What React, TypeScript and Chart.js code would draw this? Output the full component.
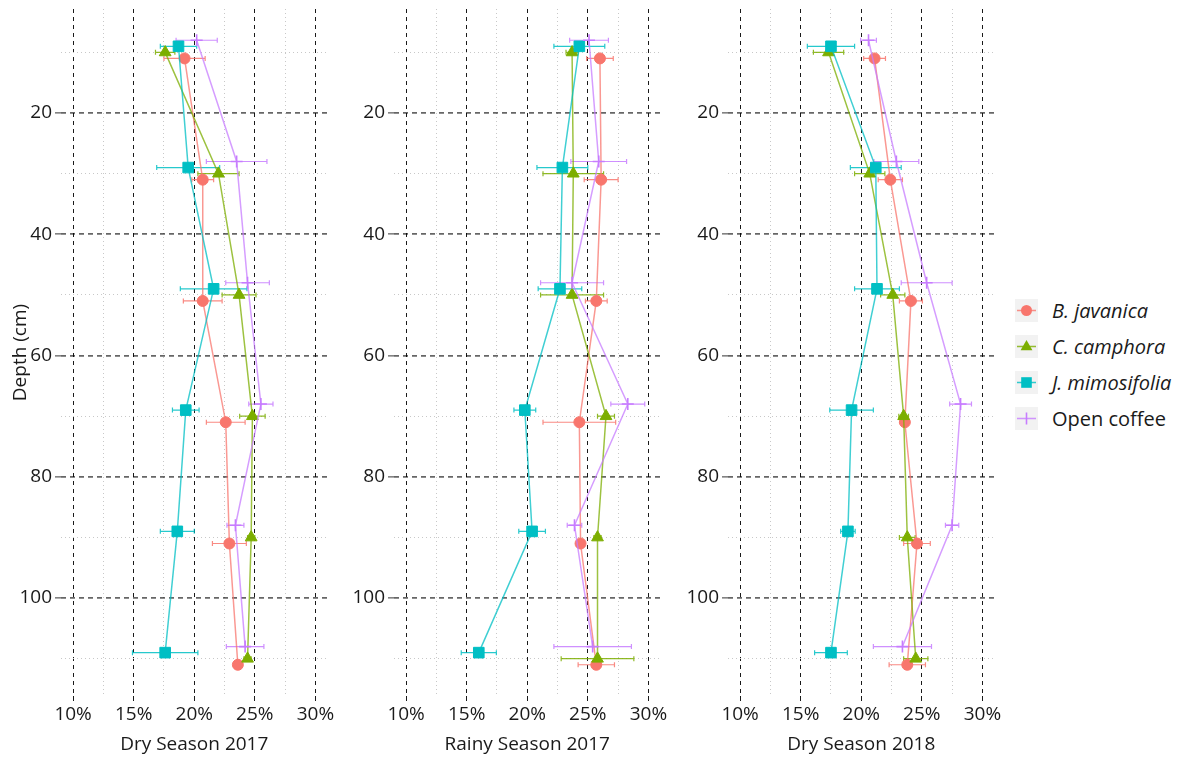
import React, { useEffect, useRef } from "react";
import { Chart, registerables } from "chart.js";

Chart.register(...registerables);

// ---------- data ----------
const panelTitles = ["Dry Season 2017", "Rainy Season 2017", "Dry Season 2018"];
const seriesNames = ["B. javanica", "C. camphora", "J. mimosifolia", "Open coffee"];
const seriesColors = ["#F8766D", "#7CAE00", "#00BFC4", "#C77CFF"];
const xTickLabels = [10, 15, 20, 25, 30];
const yTickLabels = [20, 40, 60, 80, 100];

// depths (cm), dodged per series
const depthBJ = [11, 31, 51, 71, 91, 111];
const depthCC = [10, 30, 50, 70, 90, 110];
const depthJM = [9, 29, 49, 69, 89, 109];
const depthOC = [8, 28, 48, 68, 88, 108];

// Dry Season 2017 (soil moisture %)
const dry17BJ = [19.2, 20.7, 20.7, 22.6, 22.9, 23.6];
const dry17CC = [17.6, 22.0, 23.7, 24.8, 24.7, 24.4];
const dry17JM = [18.7, 19.5, 21.6, 19.3, 18.6, 17.6];
const dry17OC = [20.2, 23.5, 24.4, 25.5, 23.4, 24.2];
const dry17BJse = [1.7, 0.9, 1.6, 1.6, 1.4, 0.3];
const dry17CCse = [0.8, 1.7, 1.4, 1.05, 0.3, 0.3];
const dry17JMse = [1.5, 2.6, 2.75, 1.1, 1.4, 2.7];
const dry17OCse = [1.7, 2.5, 1.8, 1.0, 0.7, 1.55];

// Rainy Season 2017
const rainy17BJ = [26.0, 26.1, 25.7, 24.3, 24.4, 25.7];
const rainy17CC = [23.7, 23.8, 23.7, 26.5, 25.8, 25.8];
const rainy17JM = [24.3, 22.9, 22.7, 19.8, 20.4, 16.0];
const rainy17OC = [25.1, 25.9, 23.7, 28.3, 23.9, 25.4];
const rainy17BJse = [1.1, 1.4, 0.9, 3.0, 0.3, 1.5];
const rainy17CCse = [0.5, 2.5, 2.6, 0.7, 0.3, 3.0];
const rainy17JMse = [2.1, 2.1, 1.8, 0.9, 1.1, 1.45];
const rainy17OCse = [1.6, 2.3, 2.6, 1.4, 0.6, 3.2];

// Dry Season 2018
const dry18BJ = [21.1, 22.4, 24.1, 23.6, 24.6, 23.8];
const dry18CC = [17.3, 20.7, 22.6, 23.5, 23.8, 24.5];
const dry18JM = [17.5, 21.2, 21.3, 19.2, 18.9, 17.5];
const dry18OC = [20.6, 22.9, 25.4, 28.2, 27.5, 23.4];
const dry18BJse = [0.9, 1.0, 0.95, 0.3, 1.1, 1.5];
const dry18CCse = [1.25, 1.25, 1.0, 0.4, 0.65, 1.0];
const dry18JMse = [1.95, 2.1, 1.85, 1.8, 0.6, 1.35];
const dry18OCse = [0.65, 1.85, 2.1, 0.9, 0.55, 2.4];

const depths = [depthBJ, depthCC, depthJM, depthOC];
const panelValues = [
  [dry17BJ, dry17CC, dry17JM, dry17OC],
  [rainy17BJ, rainy17CC, rainy17JM, rainy17OC],
  [dry18BJ, dry18CC, dry18JM, dry18OC],
];
const panelErrors = [
  [dry17BJse, dry17CCse, dry17JMse, dry17OCse],
  [rainy17BJse, rainy17CCse, rainy17JMse, rainy17OCse],
  [dry18BJse, dry18CCse, dry18JMse, dry18OCse],
];

// ---------- styling ----------
const FONT = "'Open Sans', 'Noto Sans', sans-serif";
const TEXT = "#1a1a1a";
const pointStyles = ["circle", "triangle", "rect", "cross"];
const pointRadii = [5.5, 6.8, 7.5, 6];

function rgba(hex: string, a: number) {
  const n = parseInt(hex.slice(1), 16);
  return `rgba(${(n >> 16) & 255},${(n >> 8) & 255},${n & 255},${a})`;
}

const errorBarPlugin = {
  id: "errorBars",
  beforeDatasetsDraw(chart: any) {
    const { ctx, scales } = chart;
    const xs = scales.x;
    const ys = scales.y;
    ctx.save();
    chart.data.datasets.forEach((ds: any) => {
      ctx.strokeStyle = ds.errorColor;
      ctx.lineWidth = 1.2;
      ds.data.forEach((p: any, i: number) => {
        const e = ds.errors[i];
        const x0 = xs.getPixelForValue(p.x - e);
        const x1 = xs.getPixelForValue(p.x + e);
        const py = ys.getPixelForValue(p.y);
        ctx.beginPath();
        ctx.moveTo(x0, py);
        ctx.lineTo(x1, py);
        ctx.moveTo(x0, py - 2.5);
        ctx.lineTo(x0, py + 2.5);
        ctx.moveTo(x1, py - 2.5);
        ctx.lineTo(x1, py + 2.5);
        ctx.stroke();
      });
    });
    ctx.restore();
  },
};

const isMajorX = (v: number) => xTickLabels.some((t) => Math.abs(t - v) < 1e-6);
const isMajorY = (v: number) => yTickLabels.some((t) => Math.abs(t - v) < 1e-6);

function makeConfig(p: number): any {
  const datasets = seriesNames.map((name, s) => ({
    label: name,
    data: depths[s].map((d, i) => ({ x: panelValues[p][s][i], y: d })),
    errors: panelErrors[p][s],
    errorColor: rgba(seriesColors[s], 0.85),
    showLine: true,
    borderColor: rgba(seriesColors[s], 0.75),
    borderWidth: 1.5,
    backgroundColor: seriesColors[s],
    pointBackgroundColor: seriesColors[s],
    pointBorderColor: seriesColors[s],
    pointBorderWidth: s === 3 ? 1.6 : 1,
    pointStyle: pointStyles[s],
    pointRadius: pointRadii[s],
    pointHoverRadius: pointRadii[s],
    order: 4 - s,
  }));

  return {
    type: "scatter",
    data: { datasets },
    plugins: [errorBarPlugin],
    options: {
      animation: false,
      responsive: false,
      events: [],
      layout: { padding: { top: 9, right: 0, left: 0, bottom: 0 } },
      plugins: { legend: { display: false }, tooltip: { enabled: false } },
      scales: {
        x: {
          type: "linear",
          min: 9,
          max: 31,
          afterFit: (s: any) => {
            s.height = 61;
            s.paddingLeft = 0;
            s.paddingRight = 0;
          },
          ticks: {
            stepSize: 2.5,
            includeBounds: false,
            autoSkip: false,
            maxRotation: 0,
            maxTicksLimit: 30,
            padding: 2,
            color: TEXT,
            font: { family: FONT, size: 19 },
            callback: (v: number) => (isMajorX(v) ? `${Math.round(v)}%` : ""),
          },
          grid: {
            color: (c: any) => (c.tick && isMajorX(c.tick.value) ? "#1a1a1a" : "#c8c8c8"),
            lineWidth: 1,
            drawTicks: true,
            tickLength: 5,
            tickColor: (c: any) => (c.tick && isMajorX(c.tick.value) ? "#1a1a1a" : "rgba(0,0,0,0)"),
            tickWidth: 1,
          },
          border: {
            display: false,
            dash: (c: any) => (c.tick && isMajorX(c.tick.value) ? [4, 4] : [1, 3]),
          },
          title: {
            display: true,
            text: panelTitles[p],
            color: TEXT,
            font: { family: FONT, size: 19 },
            padding: { top: 0, bottom: 1 },
          },
        },
        y: {
          type: "linear",
          reverse: true,
          min: 2.85,
          max: 116.15,
          afterFit: (s: any) => {
            s.width = 61;
            s.paddingTop = 0;
            s.paddingBottom = 0;
          },
          ticks: {
            stepSize: 10,
            includeBounds: false,
            autoSkip: false,
            maxTicksLimit: 30,
            padding: 3,
            color: TEXT,
            font: { family: FONT, size: 19 },
            callback: (v: number) => (isMajorY(v) ? `${Math.round(v)}` : ""),
          },
          grid: {
            color: (c: any) => (c.tick && isMajorY(c.tick.value) ? "rgba(0,0,0,0.6)" : "#c8c8c8"),
            lineWidth: (c: any) => (c.tick && isMajorY(c.tick.value) ? 1.8 : 1),
            drawTicks: true,
            tickLength: 6,
            tickColor: (c: any) => (c.tick && isMajorY(c.tick.value) ? "#333" : "rgba(0,0,0,0)"),
            tickWidth: 1,
          },
          border: {
            display: false,
            dash: (c: any) => (c.tick && isMajorY(c.tick.value) ? [5, 4] : [1, 3]),
          },
          title: {
            display: p === 0,
            text: "Depth (cm)",
            color: TEXT,
            font: { family: FONT, size: 19 },
            padding: { top: 9, bottom: 0 },
          },
        },
      },
    },
  };
}

const CANVAS_W = 336;

function Panel({ index }: { index: number }) {
  const ref = useRef<HTMLCanvasElement | null>(null);
  useEffect(() => {
    if (!ref.current) return;
    const chart = new Chart(ref.current, makeConfig(index));
    return () => chart.destroy();
  }, [index]);
  return (
    <canvas
      ref={ref}
      width={CANVAS_W}
      height={757}
      style={{
        position: "absolute",
        left: Math.round(index * 333.4),
        top: 0,
        width: CANVAS_W,
        height: 757,
      }}
    />
  );
}

function LegendKey({ s }: { s: number }) {
  const c = seriesColors[s];
  const lc = rgba(c, 0.8);
  let marker: any = null;
  if (s === 0) marker = <circle cx={11.5} cy={11.5} r={5.5} fill={c} />;
  if (s === 1) marker = <polygon points="11.5,5 17.4,15.2 5.6,15.2" fill={c} />;
  if (s === 2) marker = <rect x={6.2} y={6.2} width={10.6} height={10.6} fill={c} />;
  if (s === 3)
    marker = <path d="M11.5 5.5 L11.5 17.5" stroke={c} strokeWidth={1.6} />;
  return (
    <svg width={23} height={23} style={{ display: "block" }}>
      <rect x={0} y={0} width={23} height={23} fill="#F2F2F2" />
      <line x1={2} y1={11.5} x2={21} y2={11.5} stroke={lc} strokeWidth={1.5} />
      {marker}
    </svg>
  );
}

function Legend() {
  return (
    <div style={{ position: "absolute", left: 1015, top: 292 }}>
      {seriesNames.map((name, s) => (
        <div key={name} style={{ display: "flex", alignItems: "center", height: 36 }}>
          <LegendKey s={s} />
          <span
            style={{
              marginLeft: 14,
              fontFamily: FONT,
              fontSize: 20,
              color: TEXT,
              fontStyle: s < 3 ? "italic" : "normal",
              whiteSpace: "nowrap",
            }}
          >
            {name}
          </span>
        </div>
      ))}
    </div>
  );
}

export default function App() {
  return (
    <div
      style={{
        position: "absolute",
        left: 0,
        top: 0,
        width: 1200,
        height: 757,
        background: "#fff",
        overflow: "hidden",
      }}
    >
      {panelTitles.map((t, i) => (
        <Panel key={t} index={i} />
      ))}
      <Legend />
    </div>
  );
}
